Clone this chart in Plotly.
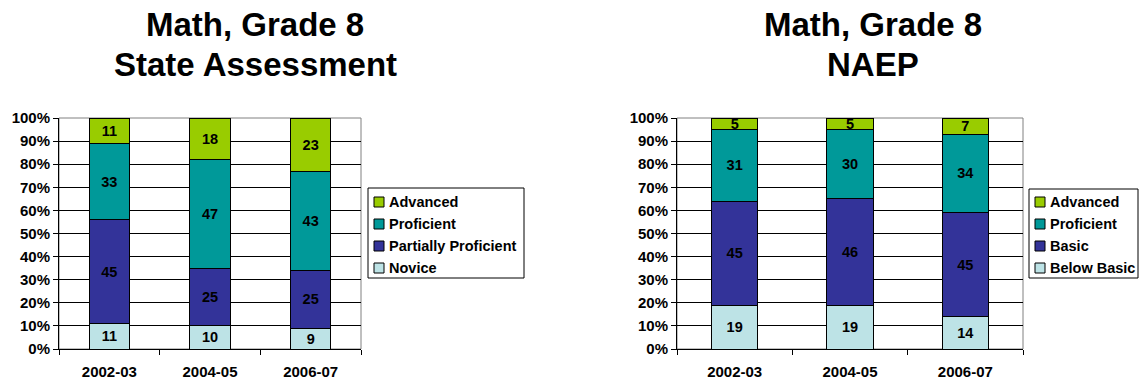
import plotly.graph_objects as go

W, H = 1143, 383

# ---- data -------------------------------------------------------------
years = ["2002-03", "2004-05", "2006-07"]

state_levels = ["Novice", "Partially Proficient", "Proficient", "Advanced"]
state_novice = [11, 10, 9]
state_partial = [45, 25, 25]
state_proficient = [33, 47, 43]
state_advanced = [11, 18, 23]

naep_levels = ["Below Basic", "Basic", "Proficient", "Advanced"]
naep_below_basic = [19, 19, 14]
naep_basic = [45, 46, 45]
naep_proficient = [31, 30, 34]
naep_advanced = [5, 5, 7]

title_line1 = "Math, Grade 8"
state_title = "State Assessment"
naep_title = "NAEP"

# colours from the bottom band to the top band
level_colors = ["#BDE3E6", "#333399", "#009999", "#99CC00"]

FONT = "Liberation Sans, Arial, sans-serif"


def fx(px):
    return px / W


def fy(py):
    return 1 - py / H


panels = [
    dict(
        xaxis="x", yaxis="y", x0=59, x1=361,
        levels=state_levels,
        series=[state_novice, state_partial, state_proficient, state_advanced],
        title2=state_title, title_x=255,
        legend_box=(368, 188, 524, 278),
    ),
    dict(
        xaxis="x2", yaxis="y2", x0=677, x1=1023,
        levels=naep_levels,
        series=[naep_below_basic, naep_basic, naep_proficient, naep_advanced],
        title2=naep_title, title_x=873,
        legend_box=(1029, 189, 1138, 278),
    ),
]

PLOT_TOP, PLOT_BOTTOM = 118, 349

fig = go.Figure()
shapes = []
annotations = []

for p in panels:
    for name, vals, color in zip(p["levels"], p["series"], level_colors):
        fig.add_trace(go.Bar(
            x=years, y=vals, name=name,
            xaxis=p["xaxis"], yaxis=p["yaxis"],
            marker=dict(color=color, line=dict(color="#000000", width=1)),
            width=0.4,
            text=[str(v) for v in vals],
            textposition="inside",
            insidetextanchor="middle",
            textangle=0,
            textfont=dict(family=FONT, size=14.5, color="#000000", weight="bold"),
            showlegend=False,
            hoverinfo="skip",
        ))

    # grey plot-area frame
    shapes.append(dict(
        type="rect", xref="paper", yref="paper", layer="below",
        x0=fx(p["x0"]), x1=fx(p["x1"]), y0=fy(PLOT_BOTTOM), y1=fy(PLOT_TOP),
        line=dict(color="#808080", width=1), fillcolor="rgba(0,0,0,0)",
    ))

    # two-line chart heading
    for text, cy in ((title_line1, 25), (p["title2"], 64.5)):
        annotations.append(dict(
            text=text, xref="paper", yref="paper",
            x=fx(p["title_x"]), y=fy(cy), xanchor="center", yanchor="middle",
            showarrow=False,
            font=dict(family=FONT, size=33, color="#000000", weight="bold"),
        ))

    # boxed legend, top band listed first
    lx0, ly0, lx1, ly1 = p["legend_box"]
    shapes.append(dict(
        type="rect", xref="paper", yref="paper", layer="above",
        x0=fx(lx0), x1=fx(lx1), y0=fy(ly1), y1=fy(ly0),
        line=dict(color="#000000", width=1), fillcolor="#FFFFFF",
    ))
    entries = list(zip(p["levels"], level_colors))[::-1]
    for i, (name, color) in enumerate(entries):
        cy = 202 + 22 * i
        shapes.append(dict(
            type="rect", xref="paper", yref="paper", layer="above",
            x0=fx(lx0 + 6), x1=fx(lx0 + 16), y0=fy(cy + 5), y1=fy(cy - 5),
            line=dict(color="#000000", width=1), fillcolor=color,
        ))
        annotations.append(dict(
            text=name, xref="paper", yref="paper",
            x=fx(lx0 + 19), y=fy(cy), xanchor="left", yanchor="middle",
            showarrow=False,
            font=dict(family=FONT, size=14.5, color="#000000", weight="bold"),
        ))


def xaxis_style(x0, x1, anchor):
    return dict(
        domain=[fx(x0), fx(x1)], anchor=anchor, automargin=False,
        type="category", range=[-0.5, 2.5],
        showgrid=False, zeroline=False,
        showline=True, linecolor="#000000", linewidth=1,
        ticks="outside", tickson="boundaries", ticklen=5,
        tickcolor="#000000", tickwidth=1,
        ticklabelstandoff=9,
        tickfont=dict(family=FONT, size=15, color="#000000", weight="bold"),
        fixedrange=True,
    )


def yaxis_style(anchor):
    return dict(
        domain=[fy(PLOT_BOTTOM), fy(PLOT_TOP)], anchor=anchor, automargin=False,
        range=[0, 100], dtick=10, ticksuffix="%",
        showgrid=True, gridcolor="#000000", gridwidth=1,
        zeroline=False,
        showline=True, linecolor="#000000", linewidth=1,
        ticks="outside", ticklen=5, tickcolor="#000000", tickwidth=1,
        tickfont=dict(family=FONT, size=15, color="#000000", weight="bold"),
        fixedrange=True,
    )


fig.update_layout(
    width=W, height=H,
    margin=dict(l=0, r=0, t=0, b=0, autoexpand=False),
    paper_bgcolor="#FFFFFF", plot_bgcolor="#FFFFFF",
    barmode="stack",
    bargap=0.6,
    showlegend=False,
    uniformtext=dict(minsize=14.5, mode="show"),
    xaxis=xaxis_style(59, 361, "y"),
    yaxis=yaxis_style("x"),
    xaxis2=xaxis_style(677, 1023, "y2"),
    yaxis2=yaxis_style("x2"),
    shapes=shapes,
    annotations=annotations,
)

fig.write_html("out.html")
